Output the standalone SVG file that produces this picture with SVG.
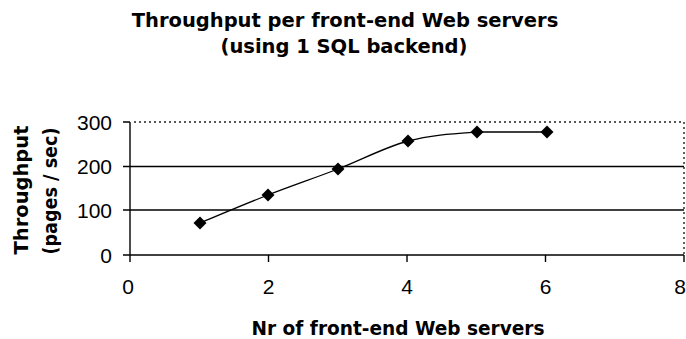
<svg xmlns="http://www.w3.org/2000/svg" width="686" height="339" viewBox="0 0 686 339">
  <style>
    .title { font-family: "DejaVu Sans", "Liberation Sans", sans-serif; font-weight: bold; font-size: 19.5px; fill: #000; }
    .tick  { font-family: "Liberation Sans", Arial, sans-serif; font-size: 21px; fill: #000; }
    .axis  { stroke: #000; stroke-width: 1.4; fill: none; }
    .grid  { stroke: #000; stroke-width: 1.4; fill: none; }
    .frame { stroke: #222; stroke-width: 1.4; stroke-dasharray: 2 3; fill: none; }
    .series { stroke: #000; stroke-width: 1.3; fill: none; }
    .marker { fill: #000; }
  </style>
  <defs>
    <path id="diamond" d="M0,-6.5 L6.5,0 L0,6.5 L-6.5,0 Z"/>
  </defs>
  <rect width="686" height="339" fill="#fff"/>

  <!-- chart title -->
  <g id="chart-title">
    <text class="title" x="345" y="27" text-anchor="middle">Throughput per front-end Web servers</text>
    <text class="title" x="344" y="53" text-anchor="middle">(using 1 SQL backend)</text>
  </g>

  <!-- plot area: gridlines, frame and axes -->
  <g id="plot-area">
    <line class="frame" x1="134" y1="122" x2="684" y2="122"/>
    <line class="frame" x1="684" y1="122" x2="684" y2="255"/>
    <line class="grid" x1="130" y1="166.5" x2="684" y2="166.5"/>
    <line class="grid" x1="130" y1="210" x2="684" y2="210"/>
    <line class="axis" x1="130" y1="122" x2="130" y2="255"/>
    <line class="axis" x1="123" y1="255" x2="684" y2="255"/>
    <!-- y ticks -->
    <path class="axis" d="M123,122 H130 M123,166.5 H130 M123,210 H130"/>
    <!-- x ticks -->
    <path class="axis" d="M130,255 V262 M268.5,255 V262 M407,255 V262 M545.5,255 V262 M684,255 V262"/>
  </g>

  <!-- axis tick labels -->
  <g id="y-tick-labels">
    <text class="tick" x="112" y="129.5" text-anchor="end">300</text>
    <text class="tick" x="112" y="174" text-anchor="end">200</text>
    <text class="tick" x="112" y="217.5" text-anchor="end">100</text>
    <text class="tick" x="112" y="262.5" text-anchor="end">0</text>
  </g>
  <g id="x-tick-labels">
    <text class="tick" x="128" y="294" text-anchor="middle">0</text>
    <text class="tick" x="268.5" y="294" text-anchor="middle">2</text>
    <text class="tick" x="407" y="294" text-anchor="middle">4</text>
    <text class="tick" x="545.5" y="294" text-anchor="middle">6</text>
    <text class="tick" x="680" y="294" text-anchor="middle">8</text>
  </g>

  <!-- axis titles -->
  <g id="y-axis-title">
    <text class="title" transform="translate(28,190) rotate(-90)" text-anchor="middle">Throughput</text>
    <text class="title" transform="translate(57,191) rotate(-90)" text-anchor="middle" textLength="127" lengthAdjust="spacingAndGlyphs">(pages / sec)</text>
  </g>
  <g id="x-axis-title">
    <text class="title" x="398" y="335" text-anchor="middle" textLength="293" lengthAdjust="spacingAndGlyphs">Nr of front-end Web servers</text>
  </g>

  <!-- data series: smoothed line with diamond markers -->
  <g id="series">
    <path class="series" d="M200,223 C211.3,218.3 245,204 268,195 C291,186 314.7,178 338,169 C361.3,160 384.8,147.2 408,141 C431.2,134.8 453.8,133.6 477,132 C500,132 535,132 547,132"/>
    <use href="#diamond" class="marker" x="200" y="223"/>
    <use href="#diamond" class="marker" x="268" y="195"/>
    <use href="#diamond" class="marker" x="338" y="169"/>
    <use href="#diamond" class="marker" x="408" y="141"/>
    <use href="#diamond" class="marker" x="477" y="132"/>
    <use href="#diamond" class="marker" x="547" y="132"/>
  </g>
</svg>
